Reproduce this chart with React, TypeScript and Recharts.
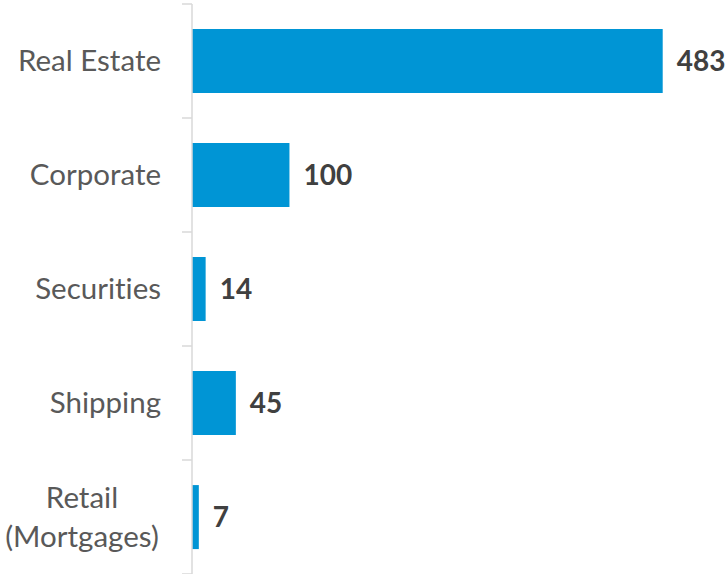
import * as React from "react";
import { BarChart, Bar, XAxis, YAxis, LabelList } from "recharts";

const categories = ["Real Estate", "Corporate", "Securities", "Shipping", "Retail\n(Mortgages)"];
const values = [483, 100, 14, 45, 7];

const data = categories.map((name, i) => ({ name, value: values[i] }));

function CategoryTick({ x, y, payload, index }: any) {
  const lines = String(payload.value).split("\n");
  const half = 57;
  const textStyle = { fontVariantLigatures: "none" } as React.CSSProperties;
  return (
    <g>
      <line x1={x - 10} x2={x} y1={y - half} y2={y - half} stroke="#d9d9d9" strokeWidth={1.5} />
      {index === categories.length - 1 && (
        <line x1={x - 10} x2={x} y1={y + half} y2={y + half} stroke="#d9d9d9" strokeWidth={1.5} />
      )}
      {lines.length === 1 ? (
        <text x={x - 31} y={y} dy="0.35em" textAnchor="end" fill="#595959" fontSize={29.5} fontFamily="Lato" style={textStyle}>
          {lines[0]}
        </text>
      ) : (
        <text x={x - 110} y={y} textAnchor="middle" fill="#595959" fontSize={29.5} fontFamily="Lato" style={textStyle}>
          {lines.map((l, i) => (
            <tspan key={i} x={x - 110} dy={i === 0 ? "-0.3em" : "1.32em"}>
              {l}
            </tspan>
          ))}
        </text>
      )}
    </g>
  );
}

export default function App() {
  return (
    <div style={{ position: "absolute", left: 0, top: 0, width: 728, height: 574, background: "#fff" }}>
      <BarChart
        width={728}
        height={574}
        data={data}
        layout="vertical"
        margin={{ top: 4, right: 0, bottom: 0, left: 0 }}
        barCategoryGap="22%"
      >
        <XAxis type="number" domain={[0, 550]} hide />
        <YAxis
          type="category"
          dataKey="name"
          width={192}
          tickLine={false}
          tickSize={0}
          tickMargin={0}
          axisLine={{ stroke: "#d9d9d9", strokeWidth: 1.5 }}
          tick={<CategoryTick />}
          interval={0}
        />
        <Bar dataKey="value" fill="#0095d5" isAnimationActive={false}>
          <LabelList
            dataKey="value"
            position="right"
            offset={14}
            fill="#404040"
            fontSize={28}
            fontWeight="bold"
            fontFamily="Lato"
          />
        </Bar>
      </BarChart>
    </div>
  );
}
